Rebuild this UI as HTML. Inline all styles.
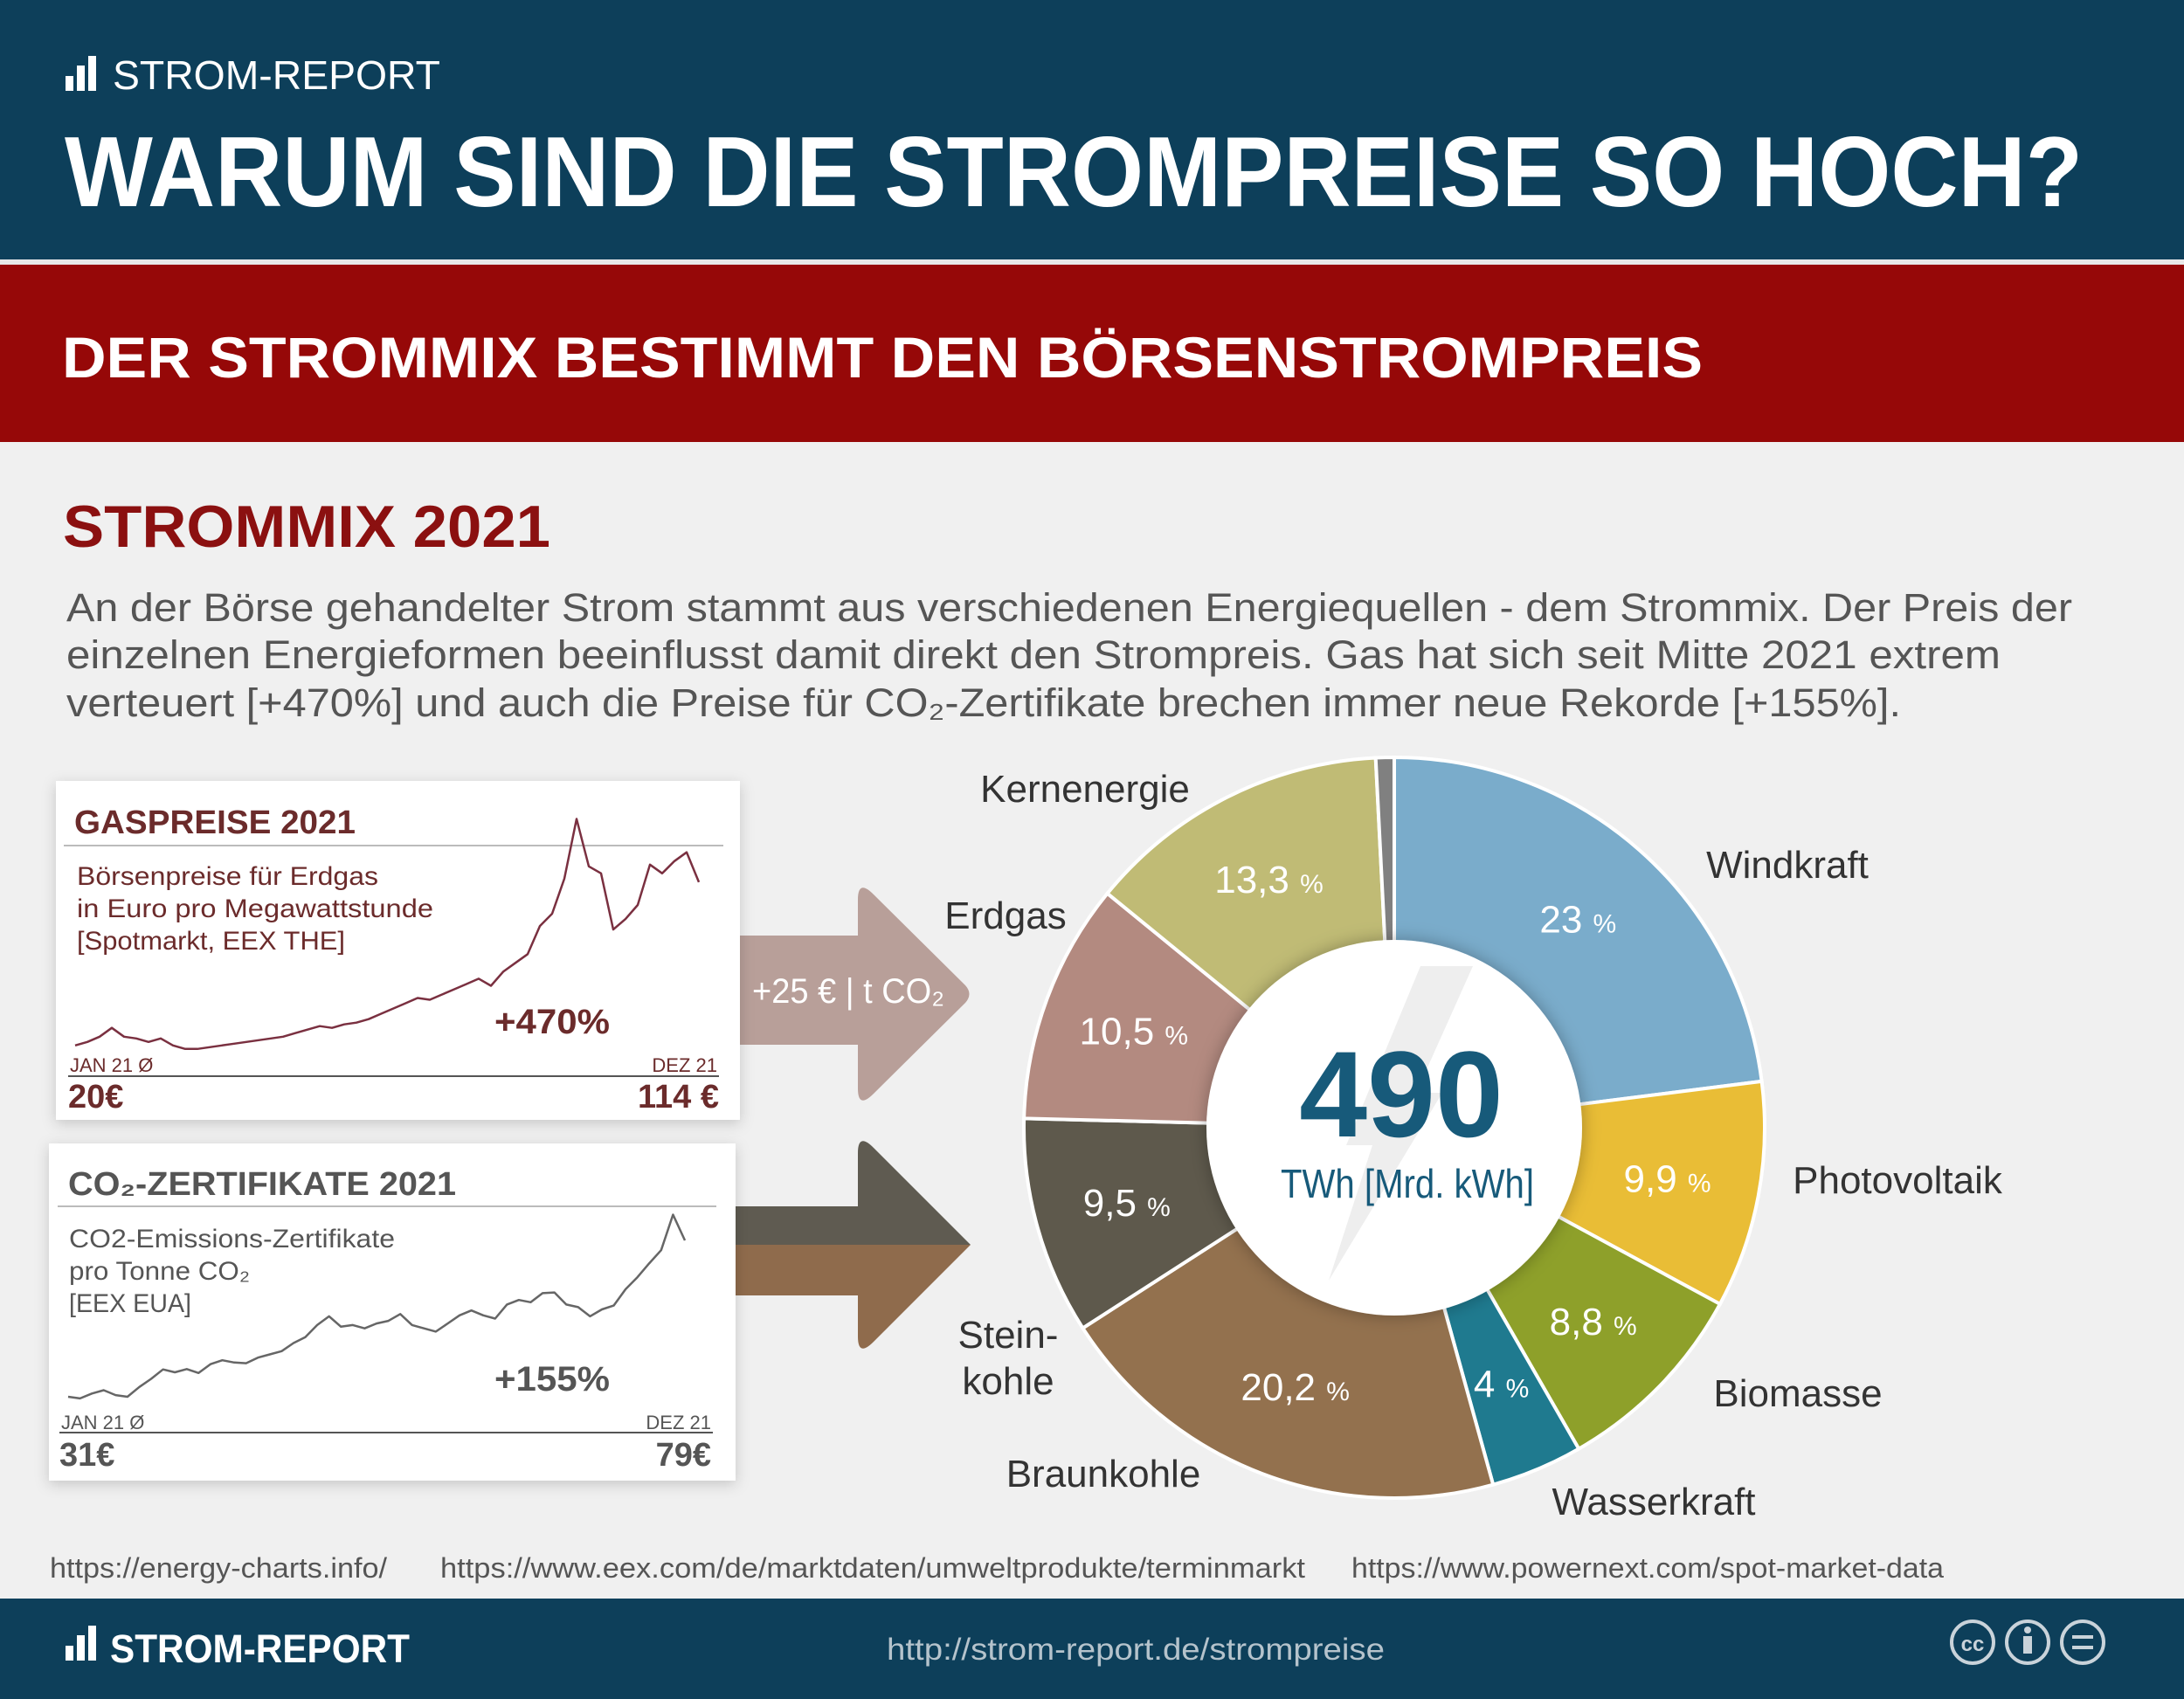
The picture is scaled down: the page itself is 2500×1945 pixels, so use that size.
<!DOCTYPE html>
<html><head><meta charset="utf-8">
<style>
html,body{margin:0;padding:0;background:#f0f0f0;}
svg{display:block;font-family:"Liberation Sans",sans-serif;}
.nar{font-family:"Liberation Sans Narrow","Liberation Sans",sans-serif;}
</style></head>
<body>
<svg id="page" width="2500" height="1945" viewBox="0 0 2500 1945">
<defs>
<filter id="sh" x="-10%" y="-10%" width="120%" height="120%"><feDropShadow dx="0" dy="4" stdDeviation="8" flood-color="#000" flood-opacity="0.18"/></filter>
<filter id="sh2" x="-20%" y="-20%" width="140%" height="140%"><feDropShadow dx="0" dy="0" stdDeviation="10" flood-color="#000" flood-opacity="0.3"/></filter>
</defs>
<rect x="0" y="0" width="2500" height="1945" fill="#f0f0f0"/>
<rect x="0" y="0" width="2500" height="297" fill="#0d3f5a"/>
<rect x="0" y="297" width="2500" height="6" fill="#e8e8e8"/>
<g fill="#fff">
<rect x="75" y="87" width="9" height="17"/><rect x="88" y="75" width="9" height="29"/><rect x="101" y="64" width="9" height="40"/>
<text x="129" y="102" font-size="46" textLength="375" lengthAdjust="spacingAndGlyphs">STROM-REPORT</text>
</g>
<text x="74" y="236" font-size="114" font-weight="bold" fill="#fff" textLength="2310" lengthAdjust="spacingAndGlyphs">WARUM SIND DIE STROMPREISE SO HOCH?</text>
<rect x="0" y="303" width="2500" height="203" fill="#960808"/>
<text x="71" y="432" font-size="66" font-weight="bold" fill="#fff" textLength="1878" lengthAdjust="spacingAndGlyphs">DER STROMMIX BESTIMMT DEN BÖRSENSTROMPREIS</text>
<text x="72" y="626" font-size="68" font-weight="bold" fill="#8b1010" textLength="558" lengthAdjust="spacingAndGlyphs">STROMMIX 2021</text>
<g fill="#555" font-size="45">
<text x="76" y="711" textLength="2296" lengthAdjust="spacingAndGlyphs">An der Börse gehandelter Strom stammt aus verschiedenen Energiequellen - dem Strommix. Der Preis der</text>
<text x="76" y="765" textLength="2214" lengthAdjust="spacingAndGlyphs">einzelnen Energieformen beeinflusst damit direkt den Strompreis. Gas hat sich seit Mitte 2021 extrem</text>
<text x="76" y="820" textLength="2100" lengthAdjust="spacingAndGlyphs">verteuert [+470%] und auch die Preise für CO₂-Zertifikate brechen immer neue Rekorde [+155%].</text>
</g>

<g>
<path d="M847 1071 L982 1071 L982 1030 Q982 1006 1000 1024 L1105 1128 Q1114 1138 1105 1148 L1000 1252 Q982 1270 982 1246 L982 1196 L847 1196 Z" fill="#b89f99"/>
<text x="971" y="1148" class="nar" font-size="40" fill="#fff" text-anchor="middle" textLength="220" lengthAdjust="spacingAndGlyphs">+25 € | t  CO₂</text>
</g>
<g>
<path d="M842 1381 L982 1381 L982 1320 Q982 1296 1000 1314 L1111 1425 L842 1425 Z" fill="#5f5b51"/>
<path d="M842 1425 L1111 1425 L1000 1536 Q982 1554 982 1530 L982 1483 L842 1483 Z" fill="#8f6b4c"/>
</g>

<g>
<rect x="64" y="894" width="783" height="388" fill="#fff" filter="url(#sh)"/>
<text x="85" y="954" font-size="38" font-weight="bold" fill="#6b2b2b" textLength="322" lengthAdjust="spacingAndGlyphs">GASPREISE 2021</text>
<line x1="73" y1="968" x2="828" y2="968" stroke="#bbb" stroke-width="2"/>
<g fill="#6b2b2b" font-size="30">
<text x="88" y="1013" textLength="345" lengthAdjust="spacingAndGlyphs">Börsenpreise für Erdgas</text>
<text x="88" y="1050" textLength="408" lengthAdjust="spacingAndGlyphs">in Euro pro Megawattstunde</text>
<text x="88" y="1087" textLength="307" lengthAdjust="spacingAndGlyphs">[Spotmarkt, EEX THE]</text>
</g>
<g id="gasChart"></g>
<text x="566" y="1183" font-size="40" font-weight="bold" fill="#6b2b2b" textLength="132" lengthAdjust="spacingAndGlyphs">+470%</text>
<text x="80" y="1227" font-size="22" fill="#6b2b2b">JAN 21 Ø</text>
<text x="821" y="1227" font-size="22" fill="#6b2b2b" text-anchor="end">DEZ 21</text>
<line x1="78" y1="1232" x2="823" y2="1232" stroke="#555" stroke-width="2"/>
<text x="78" y="1268" font-size="38" font-weight="bold" fill="#6b2b2b">20€</text>
<text x="823" y="1268" font-size="38" font-weight="bold" fill="#6b2b2b" text-anchor="end">114 €</text>
</g>

<g>
<rect x="56" y="1309" width="786" height="386" fill="#fff" filter="url(#sh)"/>
<text x="78" y="1368" font-size="38" font-weight="bold" fill="#555" textLength="444" lengthAdjust="spacingAndGlyphs">CO₂-ZERTIFIKATE 2021</text>
<line x1="66" y1="1381" x2="820" y2="1381" stroke="#bbb" stroke-width="2"/>
<g fill="#555" font-size="30">
<text x="79" y="1428" textLength="373" lengthAdjust="spacingAndGlyphs">CO2-Emissions-Zertifikate</text>
<text x="79" y="1465" textLength="207" lengthAdjust="spacingAndGlyphs">pro Tonne CO₂</text>
<text x="79" y="1502" textLength="140" lengthAdjust="spacingAndGlyphs">[EEX EUA]</text>
</g>
<g id="co2Chart"></g>
<text x="566" y="1592" font-size="40" font-weight="bold" fill="#555" textLength="132" lengthAdjust="spacingAndGlyphs">+155%</text>
<text x="70" y="1636" font-size="22" fill="#555">JAN 21 Ø</text>
<text x="814" y="1636" font-size="22" fill="#555" text-anchor="end">DEZ 21</text>
<line x1="68" y1="1640" x2="816" y2="1640" stroke="#555" stroke-width="2"/>
<text x="68" y="1678" font-size="38" font-weight="bold" fill="#555">31€</text>
<text x="814" y="1678" font-size="38" font-weight="bold" fill="#555" text-anchor="end">79€</text>
</g>

<g id="donut"></g>

<g fill="#555" font-size="32">
<text x="57" y="1806" textLength="386" lengthAdjust="spacingAndGlyphs">https://energy-charts.info/</text>
<text x="504" y="1806" textLength="990" lengthAdjust="spacingAndGlyphs">https://www.eex.com/de/marktdaten/umweltprodukte/terminmarkt</text>
<text x="1547" y="1806" textLength="678" lengthAdjust="spacingAndGlyphs">https://www.powernext.com/spot-market-data</text>
</g>

<rect x="0" y="1830" width="2500" height="115" fill="#0d3f5a"/>
<g fill="#fff">
<rect x="75" y="1884" width="9" height="17"/><rect x="88" y="1872" width="9" height="29"/><rect x="101" y="1861" width="9" height="40"/>
<text x="126" y="1903" font-size="45" font-weight="bold" textLength="343" lengthAdjust="spacingAndGlyphs">STROM-REPORT</text>
</g>
<text x="1300" y="1900" font-size="35" fill="#b5c3cc" text-anchor="middle" textLength="570" lengthAdjust="spacingAndGlyphs">http://strom-report.de/strompreise</text>
<g fill="none" stroke="#c9d3da" stroke-width="4">
<circle cx="2258" cy="1880" r="24"/><text x="2258" y="1890" font-size="24" font-weight="bold" fill="#c9d3da" stroke="none" text-anchor="middle">cc</text>
<circle cx="2321" cy="1880" r="24"/><circle cx="2321" cy="1866" r="4" fill="#c9d3da" stroke="none"/><rect x="2316" y="1873" width="10" height="20" fill="#c9d3da" stroke="none"/>
<circle cx="2384" cy="1880" r="24"/><line x1="2372" y1="1874" x2="2396" y2="1874"/><line x1="2372" y1="1886" x2="2396" y2="1886"/>
</g>
</svg>
<script>
const NS="http://www.w3.org/2000/svg";
const mixLabels=["Windkraft","Photovoltaik","Biomasse","Wasserkraft","Braunkohle","Steinkohle","Erdgas","Kernenergie","Sonstige"];
const mixShares=[23,9.9,8.8,4,20.2,9.5,10.5,13.3,0.8];
const mixPrinted=["23","9,9","8,8","4","20,2","9,5","10,5","13,3",""];
const mixColors=["#7aaccb","#e9bd36","#8ea02a","#1f7a8f","#93714e","#5e594c","#b38a80","#c0bb75","#808080"];
const gasPrices=[20,22,25,30,25,24,22,24,20,18,18,19,20,21,22,23,24,25,27,29,31,30,32,33,35,38,41,44,47,46,49,52,55,58,54,62,67,72,88,95,115,149,122,118,86,92,100,123,118,125,130,113];
const co2Prices=[31,30.5,32,33,31.5,31,34,36.5,39.4,38.5,39.5,38.3,41,42.2,41.5,41.3,43,44,45,47.5,49.3,53,55.7,52.5,53,52,53.5,54.3,56.4,53,52,51,53.5,56,57.5,56,55,59.3,60.7,60,62.8,63,59.3,58.5,55.7,57.8,59,64,67.7,72,76,86.9,79];
const totalTWh="490";

function mk(tag,attrs,parent){const e=document.createElementNS(NS,tag);for(const k in attrs)e.setAttribute(k,attrs[k]);parent.appendChild(e);return e;}

function lineChart(gid,vals,x0,x1,yOf,color,name){
  const g=document.getElementById(gid);
  const xs=i=>x0+i*(x1-x0)/(vals.length-1);
  const d=vals.map((v,i)=>(i?"L":"M")+xs(i).toFixed(1)+" "+yOf(v).toFixed(1)).join(" ");
  const p=mk("path",{d:d,fill:"none",stroke:color,"stroke-width":"2.5","stroke-linejoin":"round"},g);
  
  
}
lineChart("gasChart",gasPrices,86,800,v=>1237-v*2.01,"#7a3040","gas-price-line");
lineChart("co2Chart",co2Prices,78,784,v=>1599-(v-31)*3.73,"#666","co2-price-line");

const cx=1596,cy=1291,R=424,r0=205;
const dg=document.getElementById("donut");
const total=mixShares.reduce((a,b)=>a+b,0);
function pt(rad,a){return [cx+rad*Math.sin(a),cy-rad*Math.cos(a)];}
let acc=0;
mixShares.forEach((s,i)=>{
  const a0=acc/total*2*Math.PI;acc+=s;const a1=acc/total*2*Math.PI;
  const large=(a1-a0)>Math.PI?1:0;
  const p0=pt(R,a0),p1=pt(R,a1),q1=pt(r0,a1),q0=pt(r0,a0);
  const d=`M${p0[0]} ${p0[1]} A${R} ${R} 0 ${large} 1 ${p1[0]} ${p1[1]} L${q1[0]} ${q1[1]} A${r0} ${r0} 0 ${large} 0 ${q0[0]} ${q0[1]} Z`;
  const sl=mk("path",{d:d,fill:mixColors[i],stroke:"#fff","stroke-width":"4"},dg);
  
  
  if(mixPrinted[i]){
    const am=(a0+a1)/2;const m=pt(318,am);
    const t=mk("text",{x:m[0],y:m[1]+15,"font-size":"44",fill:"#fff","text-anchor":"middle",class:"nar"},dg);
    t.textContent=mixPrinted[i]+" ";
    const ts=mk("tspan",{"font-size":"30"},t);ts.textContent="%";
    
    
  }
});
const inner=mk("circle",{cx:cx,cy:cy,r:215,fill:"#fff",filter:"url(#sh2)"},dg);


const bolt=mk("path",{d:`M${cx+30} ${cy-185} L${cx+90} ${cy-185} L${cx+25} ${cy-40} L${cx+55} ${cy-40} L${cx-75} ${cy+175} L${cx-25} ${cy+20} L${cx-55} ${cy+20} Z`,fill:"#eeeeee","stroke-linejoin":"round"},dg);


const tot=mk("text",{x:cx+8,y:cy+10,"font-size":"140","font-weight":"bold",fill:"#175a7a","text-anchor":"middle"},dg);
tot.textContent=totalTWh;


const unit=mk("text",{x:cx+15,y:cy+80,"font-size":"46",fill:"#175a7a","text-anchor":"middle",class:"nar",textLength:"290",lengthAdjust:"spacingAndGlyphs"},dg);
unit.textContent="TWh [Mrd. kWh]";



const outerPos=[[2046,1005,0],[2172,1366,1],[2058,1610,2],[1893,1734,3],[1263,1702,4],[1154,1543,5],[1151,1063,6],[1242,918,7]];
outerPos.forEach(p=>{
  const i=p[2];
  const t=mk("text",{x:p[0],y:p[1],"font-size":"44",fill:"#333","text-anchor":"middle",class:"nar"},dg);
  if(mixLabels[i]==="Steinkohle"){
    t.textContent="Stein-";
    const t2=mk("tspan",{x:p[0],dy:"53"},t);t2.textContent="kohle";
  } else t.textContent=mixLabels[i];
  
  
});
</script>
</body></html>
